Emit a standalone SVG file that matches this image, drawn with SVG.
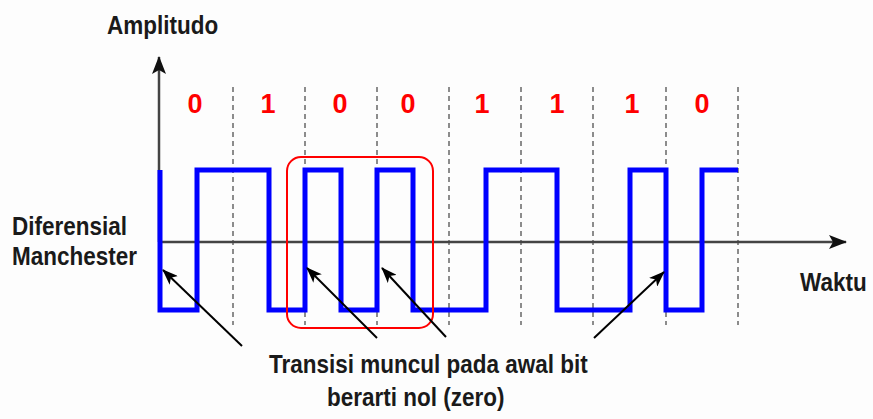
<svg xmlns="http://www.w3.org/2000/svg" width="873" height="419" viewBox="0 0 873 419">
  <style>
    .lbl { font-family: "Liberation Sans", Arial, sans-serif; font-weight: bold; font-size: 22.5px; fill: #1a1a1a; }
    .bit { font-family: "Liberation Sans", Arial, sans-serif; font-weight: bold; font-size: 27px; fill: #ff0000; text-anchor: middle; }
    .dash { stroke: #8c8c8c; stroke-width: 2; stroke-dasharray: 5 4; fill: none; }
    .axis { stroke: #444; stroke-width: 2.5; fill: none; }
    .ptr { stroke: #000; stroke-width: 2; fill: none; marker-end: url(#head); }
  </style>
  <defs>
    <marker id="head" viewBox="0 0 16 12" refX="15" refY="6" markerWidth="16" markerHeight="12" markerUnits="userSpaceOnUse" orient="auto">
      <path d="M0,0 L16,6 L0,12 L4,6 Z" fill="#000"/>
    </marker>
    <marker id="axhead" viewBox="0 0 18 14" refX="17" refY="7" markerWidth="18" markerHeight="14" markerUnits="userSpaceOnUse" orient="auto">
      <path d="M0,0 L18,7 L0,14 L4,7 Z" fill="#111"/>
    </marker>
  </defs>
  <rect x="0" y="0" width="873" height="419" fill="#fdfdfd"/>

  <g id="grid">
    <line class="dash" x1="233" y1="87" x2="233" y2="325"/>
    <line class="dash" x1="305" y1="87" x2="305" y2="325"/>
    <line class="dash" x1="377" y1="87" x2="377" y2="325"/>
    <line class="dash" x1="449" y1="87" x2="449" y2="325"/>
    <line class="dash" x1="521" y1="87" x2="521" y2="325"/>
    <line class="dash" x1="593" y1="87" x2="593" y2="325"/>
    <line class="dash" x1="666" y1="87" x2="666" y2="325"/>
    <line class="dash" x1="738" y1="87" x2="738" y2="325"/>
  </g>

  <g id="axes">
    <line class="axis" x1="159" y1="242" x2="159" y2="57" marker-end="url(#axhead)"/>
    <line class="axis" x1="159" y1="242" x2="846" y2="242" marker-end="url(#axhead)"/>
  </g>

  <g id="bits">
    <text class="bit" x="195" y="113">0</text>
    <text class="bit" x="268" y="113">1</text>
    <text class="bit" x="340" y="113">0</text>
    <text class="bit" x="408" y="113">0</text>
    <text class="bit" x="482" y="113">1</text>
    <text class="bit" x="557" y="113">1</text>
    <text class="bit" x="632" y="113">1</text>
    <text class="bit" x="702" y="113">0</text>
  </g>

  <g id="signal">
    <path d="M160,170 V310 H197 V170 H269 V310 H305 V170 H341 V310 H377 V170 H413 V310 H486 V170 H557 V310 H630 V170 H666 V310 H702 V170 H738" fill="none" stroke="#0000ff" stroke-width="5" stroke-linejoin="miter"/>
  </g>

  <g id="highlight">
    <rect x="287" y="157" width="146" height="171" rx="14" ry="14" fill="none" stroke="#ff0000" stroke-width="2"/>
  </g>

  <g id="connectors">
    <line class="ptr" x1="242" y1="346" x2="163" y2="270"/>
    <line class="ptr" x1="377" y1="338" x2="307" y2="268"/>
    <line class="ptr" x1="446" y1="337" x2="382" y2="268"/>
    <line class="ptr" x1="594" y1="338" x2="664" y2="272"/>
  </g>

  <g id="labels">
    <text class="lbl" transform="translate(107,34) scale(1,1.15)">Amplitudo</text>
    <text class="lbl" transform="translate(12,235) scale(1,1.15)">Diferensial</text>
    <text class="lbl" transform="translate(12,265) scale(1,1.15)">Manchester</text>
    <text class="lbl" transform="translate(800,291) scale(1,1.15)">Waktu</text>
    <text class="lbl" transform="translate(269,373) scale(1,1.15)">Transisi muncul pada awal bit</text>
    <text class="lbl" transform="translate(327,406) scale(1,1.15)">berarti nol (zero)</text>
  </g>
</svg>
